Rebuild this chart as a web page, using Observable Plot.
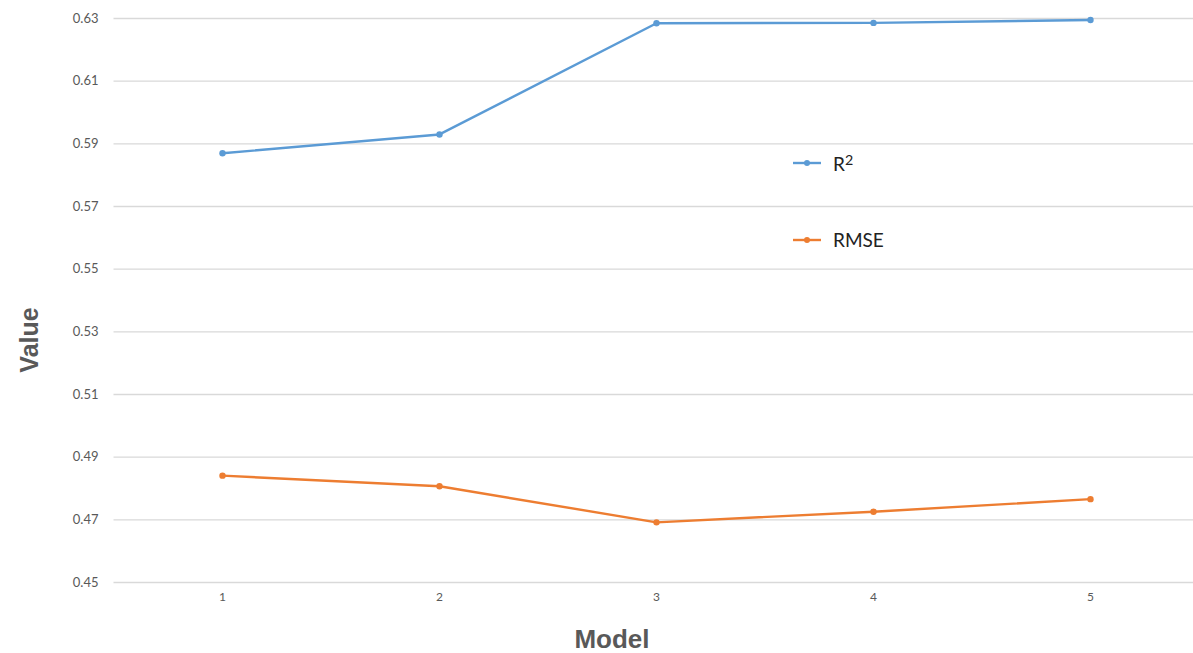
<!DOCTYPE html>
<html>
<head>
<meta charset="utf-8">
<script src="https://cdn.jsdelivr.net/npm/d3@7"></script>
<script src="https://cdn.jsdelivr.net/npm/@observablehq/plot@0.6"></script>
<style>
  html, body { margin: 0; padding: 0; background: #fff; }
  #wrap { position: relative; width: 1193px; height: 653px; }
  .lg { position: absolute; display: flex; align-items: center; font-family: Lato, "Liberation Sans", sans-serif; font-size: 19px; color: #222; }
  .lg svg { margin-right: 12px; }
</style>
</head>
<body>
<div id="wrap"></div>
<script>
const models = [1, 2, 3, 4, 5];
const r2Values = [0.587, 0.593, 0.6285, 0.6286, 0.6295];
const rmseValues = [0.4841, 0.4807, 0.4692, 0.4726, 0.4766];
const yTicks = [0.45, 0.47, 0.49, 0.51, 0.53, 0.55, 0.57, 0.59, 0.61, 0.63];
const seriesNames = ["R²", "RMSE"];
const seriesColors = ["#5B9BD5", "#ED7D31"];

const rows = [];
models.forEach((m, i) => {
  rows.push({model: m, value: r2Values[i], series: seriesNames[0]});
  rows.push({model: m, value: rmseValues[i], series: seriesNames[1]});
});

const chart = Plot.plot({
  width: 1193,
  height: 653,
  marginLeft: 114,
  marginRight: 0,
  marginTop: 18,
  marginBottom: 71,
  style: {background: "#fff", overflow: "hidden"},
  x: {type: "linear", domain: [0.5, 5.5], range: [113.5, 1198.5], ticks: models, tickFormat: d => String(d), tickSize: 0, tickPadding: 10, label: null},
  y: {domain: [0.45, 0.63], ticks: yTicks, tickFormat: d3.format(".2f"), tickSize: 0, tickPadding: 16, label: null},
  color: {domain: seriesNames, range: seriesColors},
  marks: [
    Plot.ruleY(yTicks, {stroke: "#d9d9d9", strokeWidth: 1.3, x1: 0.5, x2: 5.6}),
    Plot.axisY({ticks: yTicks, tickFormat: d3.format(".2f"), tickSize: 0, tickPadding: 16, fontSize: 13, fill: "#595959", fontFamily: "Lato, 'Liberation Sans', sans-serif"}),
    Plot.axisX({ticks: models, tickFormat: d => String(d), tickSize: 0, tickPadding: 10, fontSize: 12, fill: "#595959", fontFamily: "Lato, 'Liberation Sans', sans-serif"}),
    Plot.line(rows, {x: "model", y: "value", z: "series", stroke: "series", strokeWidth: 2.4}),
    Plot.dot(rows, {x: "model", y: "value", fill: "series", r: 3.2})
  ]
});

const wrap = document.getElementById("wrap");
wrap.appendChild(chart);

// Axis titles
const svg = d3.select(chart);
svg.append("text")
  .attr("transform", "translate(38,340) rotate(-90)")
  .attr("text-anchor", "middle")
  .attr("font-family", "'Liberation Sans', Arial, sans-serif")
  .attr("font-weight", "bold")
  .attr("font-size", 25)
  .attr("fill", "#595959")
  .text("Value");
svg.append("text")
  .attr("x", 612)
  .attr("y", 648)
  .attr("text-anchor", "middle")
  .attr("font-family", "'Liberation Sans', Arial, sans-serif")
  .attr("font-weight", "bold")
  .attr("font-size", 26)
  .attr("fill", "#595959")
  .text("Model");

// Legend
const legendTops = [151, 228];
seriesNames.forEach((name, i) => {
  const d = document.createElement("div");
  d.className = "lg";
  d.style.left = "793px";
  d.style.top = legendTops[i] + "px";
  d.innerHTML = `<svg width="28" height="10"><line x1="0" y1="5" x2="28" y2="5" stroke="${seriesColors[i]}" stroke-width="2.4"/><circle cx="14" cy="5" r="3" fill="${seriesColors[i]}"/></svg><span>${name === "R²" ? "R<sup style='font-size:0.75em;vertical-align:0.45em'>2</sup>" : name}</span>`;
  wrap.appendChild(d);
});
</script>
</body>
</html>
